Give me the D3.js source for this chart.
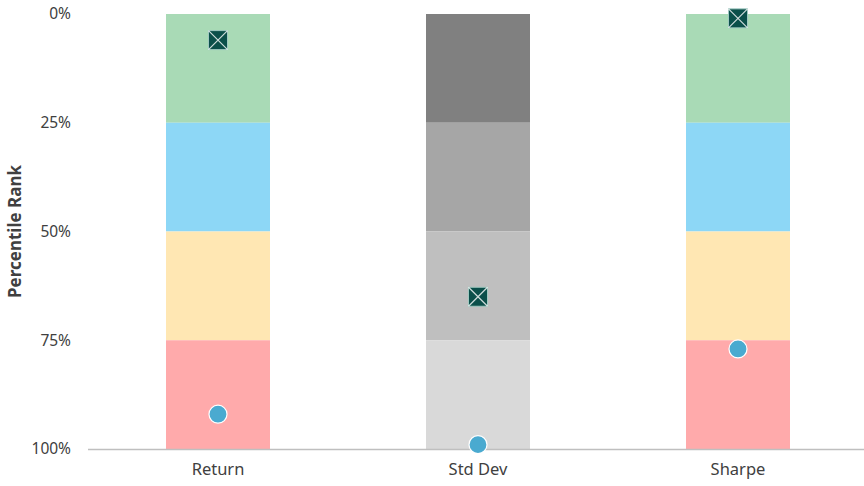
<!DOCTYPE html>
<html>
<head>
<meta charset="utf-8">
<script src="https://cdn.jsdelivr.net/npm/d3@7"></script>
<style>
  html, body { margin: 0; padding: 0; background: #ffffff; }
  svg { display: block; font-family: "Noto Sans", "DejaVu Sans", sans-serif; }
</style>
</head>
<body>
<svg id="chart" width="864" height="486"></svg>
<script>
// Metrics shown along the x axis
const categories = ["Return", "Std Dev", "Sharpe"];

// Quartile bands (percentile rank, 0 = best at top)
const quartileStarts = [0, 25, 50, 75];
const quartileEnds = [25, 50, 75, 100];

// Band fill palettes: coloured for Return / Sharpe, grey for Std Dev
const colourBands = ["#a9dab6", "#8dd7f6", "#ffe7b3", "#ffaaab"];
const greyBands = ["#808080", "#a6a6a6", "#bfbfbf", "#d9d9d9"];
const bandPalette = [colourBands, greyBands, colourBands];

// Percentile ranks of the two plotted funds
const fundSquare = [6, 65, 1];
const fundCircle = [92, 99, 77];

// Y tick labels
const yTicks = [0, 25, 50, 75, 100];

const svg = d3.select("#chart");
const margin = { top: 14, right: -4, bottom: 37, left: 88 };
const W = 864, H = 486;

const x = d3.scaleBand()
  .domain(categories)
  .range([margin.left, W - margin.right])
  .paddingInner(0.6)
  .paddingOuter(0.3);

const y = d3.scaleLinear()
  .domain([0, 100])
  .range([margin.top, H - margin.bottom]);

// Stacked quartile columns
categories.forEach((cat, ci) => {
  svg.append("g")
    .selectAll("rect")
    .data(quartileStarts.map((s, i) => ({ s, e: quartileEnds[i], c: bandPalette[ci][i] })))
    .join("rect")
    .attr("x", x(cat))
    .attr("width", x.bandwidth())
    .attr("y", d => y(d.s))
    .attr("height", d => y(d.e) - y(d.s))
    .attr("fill", d => d.c);
});

// Bottom axis line
svg.append("line")
  .attr("x1", margin.left).attr("x2", W)
  .attr("y1", y(100) + 0.5).attr("y2", y(100) + 0.5)
  .attr("stroke", "#bfbfbf").attr("stroke-width", 1.5);

// Y axis labels
const yAxis = d3.axisLeft(y)
  .tickValues(yTicks)
  .tickFormat(d => d + "%")
  .tickSize(0)
  .tickPadding(17);
const gy = svg.append("g")
  .attr("transform", `translate(${margin.left},0)`)
  .call(yAxis);
gy.select(".domain").remove();
gy.selectAll("text")
  .attr("fill", "#404040")
  .style("font-family", "'Noto Sans', sans-serif")
  .style("font-size", "15.5px");

// X axis labels
const xAxis = d3.axisBottom(x).tickSize(0).tickPadding(14);
const gx = svg.append("g")
  .attr("transform", `translate(0,${y(100)})`)
  .call(xAxis);
gx.select(".domain").remove();
gx.selectAll("text")
  .attr("fill", "#404040")
  .style("font-family", "'Noto Sans', sans-serif")
  .style("font-size", "16.5px");

// Y axis title
svg.append("text")
  .attr("transform", `translate(21,${(y(0) + y(100)) / 2}) rotate(-90)`)
  .attr("text-anchor", "middle")
  .attr("fill", "#404040")
  .style("font-size", "17px")
  .style("font-weight", "bold")
  .text("Percentile Rank");

// Fund marker: dark square with a white cross
const sq = 19;
const squares = svg.append("g")
  .selectAll("g")
  .data(categories.map((c, i) => ({ c, v: fundSquare[i] })))
  .join("g")
  .attr("transform", d => `translate(${x(d.c) + x.bandwidth() / 2},${y(d.v)})`);
squares.append("rect")
  .attr("x", -sq / 2).attr("y", -sq / 2)
  .attr("width", sq).attr("height", sq)
  .attr("fill", "#0b4f4a")
  .attr("stroke", "#9fc8c0").attr("stroke-width", 1);
squares.append("path")
  .attr("d", `M${-sq / 2},${-sq / 2}L${sq / 2},${sq / 2}M${sq / 2},${-sq / 2}L${-sq / 2},${sq / 2}`)
  .attr("stroke", "#ffffff").attr("stroke-opacity", 0.8).attr("stroke-width", 1.2);

// Benchmark marker: blue circle
svg.append("g")
  .selectAll("circle")
  .data(categories.map((c, i) => ({ c, v: fundCircle[i] })))
  .join("circle")
  .attr("cx", d => x(d.c) + x.bandwidth() / 2)
  .attr("cy", d => y(d.v))
  .attr("r", 9)
  .attr("fill", "#4aaad0")
  .attr("stroke", "#ffffff").attr("stroke-width", 1.2);
</script>
</body>
</html>
